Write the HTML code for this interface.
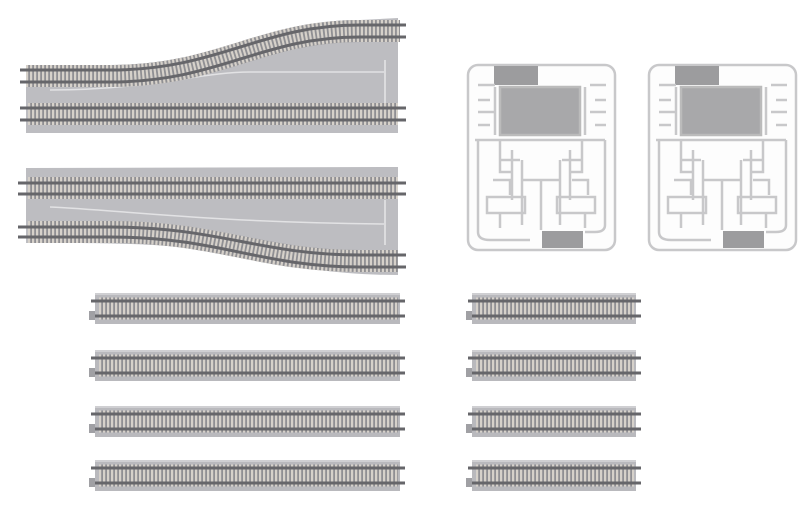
<!DOCTYPE html>
<html><head><meta charset="utf-8"><style>html,body{margin:0;padding:0;background:#fff;}svg{display:block}</style></head>
<body>
<svg width="807" height="510" viewBox="0 0 807 510" xmlns="http://www.w3.org/2000/svg">
<defs>
<g id="tr">
  <rect x="0" y="0" width="305" height="31" fill="#b9b9bd"/>
  <rect x="0" y="0" width="305" height="2" fill="#cfcfd2"/>
  <line x1="4" y1="15.5" x2="303" y2="15.5" stroke="#8f8f93" stroke-width="22"/>
  <line x1="4" y1="15.5" x2="303" y2="15.5" stroke="#d6d1ca" stroke-width="22" stroke-dasharray="2.2 1.8"/>
  <line x1="-4" y1="8" x2="310" y2="8" stroke="#66666a" stroke-width="3"/>
  <line x1="-4" y1="23" x2="310" y2="23" stroke="#66666a" stroke-width="3"/>
  <rect x="-6" y="18" width="6" height="9" fill="#a0a0a4"/>
</g>
<g id="ts">
  <rect x="0" y="0" width="164" height="31" fill="#b9b9bd"/>
  <rect x="0" y="0" width="164" height="2" fill="#cfcfd2"/>
  <line x1="4" y1="15.5" x2="162" y2="15.5" stroke="#8f8f93" stroke-width="22"/>
  <line x1="4" y1="15.5" x2="162" y2="15.5" stroke="#d6d1ca" stroke-width="22" stroke-dasharray="2.2 1.8"/>
  <line x1="-4" y1="8" x2="169" y2="8" stroke="#66666a" stroke-width="3"/>
  <line x1="-4" y1="23" x2="169" y2="23" stroke="#66666a" stroke-width="3"/>
  <rect x="-6" y="18" width="6" height="9" fill="#a0a0a4"/>
</g>
<g id="sp" fill="none" stroke="#c8c8ca" stroke-width="2.5">
  <rect x="468" y="65" width="147" height="185" rx="10" fill="#fdfdfd"/>
  <rect x="494" y="66" width="44" height="19" fill="#9c9c9e" stroke="none"/>
  <rect x="542" y="231" width="41" height="17" fill="#9c9c9e" stroke="none"/>
  <rect x="500" y="87" width="80" height="48" fill="#a8a8aa" stroke="#bbb"/>
  <path d="M495,87 V135 M585,87 V135 M478,85 H495 M478,100 H490 M478,112 H495 M478,125 H490 M590,85 H606 M595,100 H606 M590,112 H606 M595,125 H606"/>
  <path d="M475,140 H605 M500,140 V172 H512 M582,140 V172 H570 M512,150 V200 M570,150 V200 M500,160 H520 M562,160 H582"/>
  <path d="M522,160 V225 M560,160 V225 M522,180 H560 M541,180 V230"/>
  <rect x="487" y="197" width="38" height="16"/>
  <rect x="557" y="197" width="38" height="16"/>
  <path d="M478,140 V232 Q478,240 490,240 H530 M605,140 V225 Q605,232 595,232 H585"/>
  <path d="M493,180 H510 V195 M572,180 H588 V195 M500,213 V228 M585,213 V228"/>
</g>
</defs>

<!-- Turnout 1 -->
<path d="M26,65 L110,65 C220,65 260,20 360,20 L398,18 L398,133 L26,133 Z" fill="#bdbdc1"/>
<path d="M50,90 C150,90 200,72 250,72 L385,72" stroke="#e2e2e4" stroke-width="1.5" fill="none"/>
<path d="M385,60 V125 M360,120 Q380,110 390,110" stroke="#dcdcde" stroke-width="2" fill="none"/>
<path d="M26,76 L110,76 C220,76 260,31 360,31 L400,31" stroke="#8f8f93" stroke-width="22" fill="none"/>
<path d="M26,76 L110,76 C220,76 260,31 360,31 L400,31" stroke="#d6d1ca" stroke-width="22" stroke-dasharray="2.2 1.8" fill="none"/>
<path d="M20,70 L110,70 C220,70 260,25 360,25 L406,25" stroke="#66666a" stroke-width="3" fill="none"/>
<path d="M20,82 L110,82 C220,82 260,37 360,37 L406,37" stroke="#66666a" stroke-width="3" fill="none"/>
<line x1="28" y1="114" x2="398" y2="114" stroke="#8f8f93" stroke-width="22"/>
<line x1="28" y1="114" x2="398" y2="114" stroke="#d6d1ca" stroke-width="22" stroke-dasharray="2.2 1.8"/>
<line x1="20" y1="108" x2="406" y2="108" stroke="#66666a" stroke-width="3"/>
<line x1="20" y1="120" x2="406" y2="120" stroke="#66666a" stroke-width="3"/>

<!-- Turnout 2 -->
<path d="M26,168 L398,167 L398,275 C340,275 300,268 250,258 C180,243 130,243 26,243 Z" fill="#bdbdc1"/>
<path d="M50,207 C120,210 200,222 385,224" stroke="#e2e2e4" stroke-width="1.5" fill="none"/>
<path d="M385,200 V245" stroke="#dcdcde" stroke-width="2" fill="none"/>
<line x1="28" y1="188" x2="398" y2="188" stroke="#8f8f93" stroke-width="22"/>
<line x1="28" y1="188" x2="398" y2="188" stroke="#d6d1ca" stroke-width="22" stroke-dasharray="2.2 1.8"/>
<line x1="18" y1="183" x2="406" y2="183" stroke="#66666a" stroke-width="3"/>
<line x1="18" y1="194" x2="406" y2="194" stroke="#66666a" stroke-width="3"/>
<path d="M28,232 L110,232 C220,232 260,261 360,261 L398,261" stroke="#8f8f93" stroke-width="22" fill="none"/>
<path d="M28,232 L110,232 C220,232 260,261 360,261 L398,261" stroke="#d6d1ca" stroke-width="22" stroke-dasharray="2.2 1.8" fill="none"/>
<path d="M18,227 L110,227 C220,227 260,255 360,255 L406,255" stroke="#66666a" stroke-width="3" fill="none"/>
<path d="M18,237 L110,237 C220,237 260,267 360,267 L406,267" stroke="#66666a" stroke-width="3" fill="none"/>

<!-- Straight tracks -->
<use href="#tr" transform="translate(95,293)"/>
<use href="#tr" transform="translate(95,350)"/>
<use href="#tr" transform="translate(95,406)"/>
<use href="#tr" transform="translate(95,460)"/>
<use href="#ts" transform="translate(472,293)"/>
<use href="#ts" transform="translate(472,350)"/>
<use href="#ts" transform="translate(472,406)"/>
<use href="#ts" transform="translate(472,460)"/>

<!-- Sprues -->
<use href="#sp"/>
<use href="#sp" transform="translate(181,0)"/>
</svg>
</body></html>
